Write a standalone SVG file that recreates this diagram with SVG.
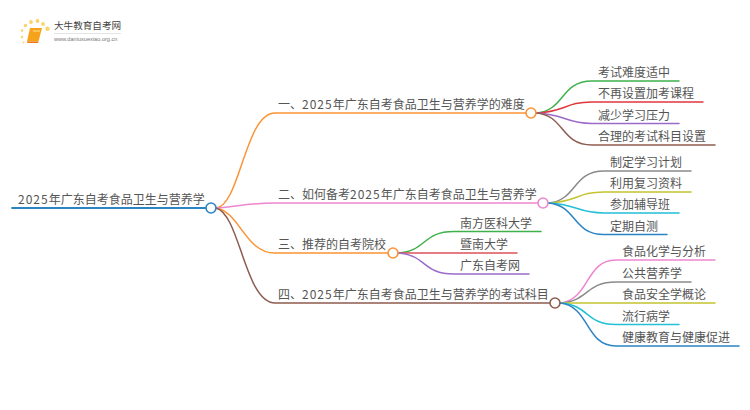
<svg xmlns="http://www.w3.org/2000/svg" width="750" height="410" viewBox="0 0 750 410">
<style>
text{font-family:"Noto Sans CJK SC","Liberation Sans",sans-serif;fill:#555;font-size:12px}
.d{letter-spacing:1px}
.c{fill:none;stroke-width:1.5;stroke-linecap:round}
.n{fill:#fff;stroke-width:1.6}
.m{stroke-width:1.8}
</style>
<rect width="750" height="410" fill="#fff"/>
<g id="logo">
<g fill="#fbd36a"><circle cx="31" cy="22" r="1.9"/><circle cx="37.500" cy="21" r="1.900"/><circle cx="25.500" cy="25.500" r="1.700"/><circle cx="43" cy="24" r="1.900"/><circle cx="47.500" cy="28.700" r="2.200"/><circle cx="22" cy="30.500" r="1.300"/><circle cx="22" cy="37" r="1.200"/><circle cx="23.500" cy="42.500" r="1"/></g>
<path d="M30 28H42L38.500 41.500H27Z" fill="#f7a21b"/><path d="M27 41.500H38.500L38 43H27.500Z" fill="#e8781a"/><path d="M33 31H40" stroke="#fde2a0" stroke-width="1"/>
<text x="54" y="29" style="font-size:9.600px;fill:#444">大牛教育自考网</text>
<path d="M54 33.500H121" stroke="#ddd" stroke-width="0.800"/>
<text x="54" y="41" style="font-size:5.600px;fill:#777;font-family:'Liberation Sans',sans-serif">www.daniuxuexiao.org.cn</text>
</g>
<g id="connectors">
<path class="c m" stroke="#2b85c5" d="M12 208H206"/>
<path class="c" stroke="#fb9335" d="M216 208C240 206 245 113 275 113H526"/>
<path class="c" stroke="#ee86cf" d="M216 208C240 206 250 203 275 203H538"/>
<path class="c" stroke="#fb9335" d="M216 208C240 212 245 253 275 253H388"/>
<path class="c" stroke="#8e5c50" d="M216 208C240 214 245 303 275 303H550"/>
<path class="c" stroke="#3fb14a" d="M536 113C565 111 560 81 592 81H679"/>
<path class="c" stroke="#e0373f" d="M536 113C565 112 565 102 592 102H703"/>
<path class="c" stroke="#9c6bc9" d="M536 113C565 114 565 123.500 592 123.500H679"/>
<path class="c" stroke="#8e5c50" d="M536 113C565 115 560 145 592 145H715"/>
<path class="c" stroke="#8a8a8a" d="M548 203C577 201 572 171 604 171H691"/>
<path class="c" stroke="#c4c431" d="M548 203C577 202 577 192 604 192H691"/>
<path class="c" stroke="#22c0d6" d="M548 203C577 204 577 213 604 213H679"/>
<path class="c" stroke="#2b85c5" d="M548 203C577 205 572 234.500 604 234.500H667"/>
<path class="c" stroke="#3fb14a" d="M398 253C427 251 422 231.500 454 231.500H541"/>
<path class="c" stroke="#e0505a" d="M398 253H517"/>
<path class="c" stroke="#9c6bc9" d="M398 253C427 255 422 274 454 274H529"/>
<path class="c" stroke="#ee86cf" d="M560 303C590 300 585 260 616 260H715"/>
<path class="c" stroke="#8a8a8a" d="M560 303C590 301 585 282 616 282H691"/>
<path class="c" stroke="#c4c431" d="M560 303H715"/>
<path class="c" stroke="#22c0d6" d="M560 303C590 305 585 324.500 616 324.500H679"/>
<path class="c" stroke="#2b85c5" d="M560 303C590 306 585 346 616 346H739"/>
</g>
<g id="root"><circle class="n" cx="211" cy="208" r="5" stroke="#2b85c5"/><text x="18" y="204"><tspan class="d">2025</tspan>年广东自考食品卫生与营养学</text></g>
<g id="b1"><circle class="n" cx="531" cy="113" r="5" stroke="#fb9335"/><text x="278" y="109">一、<tspan class="d">2025</tspan>年广东自考食品卫生与营养学的难度</text></g>
<g id="b2"><circle class="n" cx="543" cy="203" r="5" stroke="#ee86cf"/><text x="278" y="199">二、如何备考<tspan class="d">2025</tspan>年广东自考食品卫生与营养学</text></g>
<g id="b3"><circle class="n" cx="393" cy="253" r="5" stroke="#fb9335"/><text x="278" y="249">三、推荐的自考院校</text></g>
<g id="b4"><circle class="n" cx="555" cy="303" r="5" stroke="#8e5c50"/><text x="278" y="299">四、<tspan class="d">2025</tspan>年广东自考食品卫生与营养学的考试科目</text></g>
<g id="l11"><text x="598" y="77">考试难度适中</text></g>
<g id="l12"><text x="598" y="98">不再设置加考课程</text></g>
<g id="l13"><text x="598" y="119.500">减少学习压力</text></g>
<g id="l14"><text x="598" y="141">合理的考试科目设置</text></g>
<g id="l21"><text x="610" y="167">制定学习计划</text></g>
<g id="l22"><text x="610" y="188">利用复习资料</text></g>
<g id="l23"><text x="610" y="209">参加辅导班</text></g>
<g id="l24"><text x="610" y="230.500">定期自测</text></g>
<g id="l31"><text x="460" y="227.500">南方医科大学</text></g>
<g id="l32"><text x="460" y="249">暨南大学</text></g>
<g id="l33"><text x="460" y="270">广东自考网</text></g>
<g id="l41"><text x="622" y="256">食品化学与分析</text></g>
<g id="l42"><text x="622" y="278">公共营养学</text></g>
<g id="l43"><text x="622" y="299">食品安全学概论</text></g>
<g id="l44"><text x="622" y="320.500">流行病学</text></g>
<g id="l45"><text x="622" y="342">健康教育与健康促进</text></g>
</svg>
